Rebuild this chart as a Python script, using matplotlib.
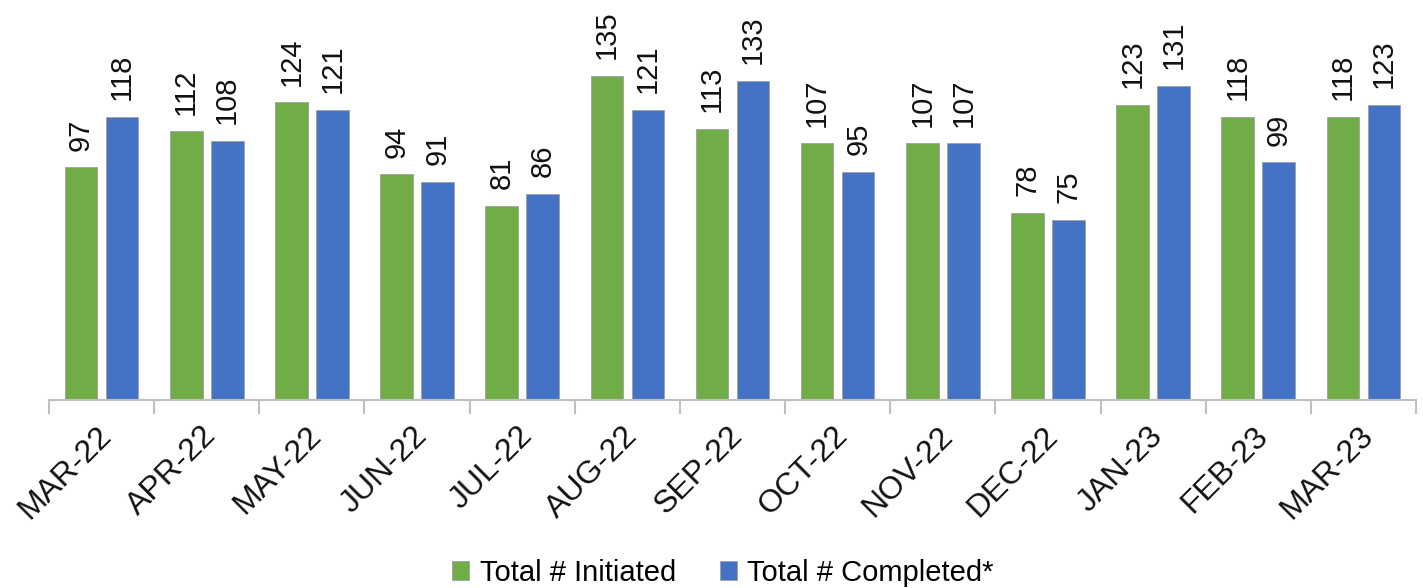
import matplotlib.pyplot as plt
import numpy as np

plt.rcParams['font.family'] = ['Liberation Sans', 'DejaVu Sans']

months = ['MAR-22', 'APR-22', 'MAY-22', 'JUN-22', 'JUL-22', 'AUG-22', 'SEP-22',
          'OCT-22', 'NOV-22', 'DEC-22', 'JAN-23', 'FEB-23', 'MAR-23']
initiated = [97, 112, 124, 94, 81, 135, 113, 107, 107, 78, 123, 118, 118]
completed = [118, 108, 121, 91, 86, 121, 133, 95, 107, 75, 131, 99, 123]

green = '#70AD47'
blue = '#4472C4'

fig = plt.figure(figsize=(14.23, 5.88), dpi=100)
ax = fig.add_axes([49 / 1423, 188 / 588, 1367 / 1423, 400 / 588])

x = np.arange(len(months))
w = 0.31
off = 0.195
b1 = ax.bar(x - off, initiated, w, color=green, edgecolor='#A0A0A0', linewidth=0.6,
            label='Total # Initiated')
b2 = ax.bar(x + off, completed, w, color=blue, edgecolor='#A0A0A0', linewidth=0.6,
            label='Total # Completed*')

for bars, vals in ((b1, initiated), (b2, completed)):
    for r, v in zip(bars, vals):
        ax.annotate(str(v), (r.get_x() + r.get_width() / 2, v), xytext=(0, 12),
                    textcoords='offset points', rotation=90, ha='center', va='bottom',
                    fontsize=21, color='#111111')

ax.set_xlim(-0.5, len(months) - 0.5)
ax.set_ylim(0, 400 / 2.4)

for s in ('top', 'right', 'left'):
    ax.spines[s].set_visible(False)
ax.spines['bottom'].set_color('#BFBFBF')
ax.spines['bottom'].set_linewidth(1.5)
ax.set_yticks([])

# category boundaries carry the tick marks, labels sit at category centres
ax.set_xticks(np.arange(len(months) + 1) - 0.5)
ax.set_xticklabels([])
ax.tick_params(axis='x', which='major', length=10, width=1.5, color='#BFBFBF')
ax.set_xticks(x - 0.05, minor=True)
ax.set_xticklabels(months, minor=True, rotation=45, ha='right', va='top',
                   rotation_mode='anchor', fontsize=23, color='#111111')
ax.tick_params(axis='x', which='minor', length=0, pad=15)

fig.legend(handles=[b1, b2], loc='center', bbox_to_anchor=(0.508, 15 / 588), ncol=2,
           frameon=False, fontsize=21, handlelength=0.6, handleheight=0.6,
           handletextpad=0.35, columnspacing=1.5, borderpad=0)

fig.savefig('out.png', dpi=100)
